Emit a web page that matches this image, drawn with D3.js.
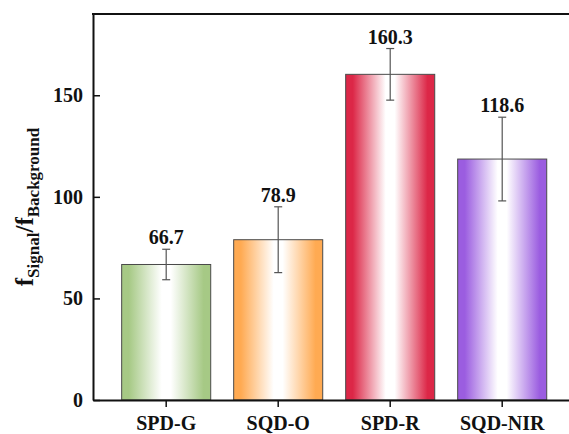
<!DOCTYPE html>
<html>
<head>
<meta charset="utf-8">
<script src="https://cdn.jsdelivr.net/npm/d3@7"></script>
<style>
  html, body { margin: 0; padding: 0; background: #fff; }
  svg { display: block; }
  svg text { font-family: "Times New Roman", "Liberation Serif", Tinos, "DejaVu Serif", serif !important; font-weight: bold !important; }
</style>
</head>
<body>
<script>
const categories = ["SPD-G", "SQD-O", "SPD-R", "SQD-NIR"];
const values = [66.7, 78.9, 160.3, 118.6];
const errors = [7.5, 16.2, 12.7, 20.6];
const colors = ["#a6c985", "#ffaa52", "#dc2747", "#9b5de0"];
const yTicks = [0, 50, 100, 150];

const W = 569, H = 434;
const svg = d3.select("body").append("svg").attr("width", W).attr("height", H);

const x0 = 93, yBottom = 400, yTop = 14;
const x = d3.scaleBand().domain(categories).range([x0, 575.4]).paddingInner(0.205).paddingOuter(0.256);
const y = d3.scaleLinear().domain([0, 190]).range([yBottom, yTop]);

const defs = svg.append("defs");
categories.forEach((c, i) => {
  const g = defs.append("linearGradient").attr("id", "grad" + i)
    .attr("x1", "0%").attr("x2", "100%").attr("y1", "0%").attr("y2", "0%");
  g.append("stop").attr("offset", "0%").attr("stop-color", colors[i]);
  g.append("stop").attr("offset", "8%").attr("stop-color", colors[i]);
  g.append("stop").attr("offset", "45%").attr("stop-color", "#ffffff");
  g.append("stop").attr("offset", "55%").attr("stop-color", "#ffffff");
  g.append("stop").attr("offset", "92%").attr("stop-color", colors[i]);
  g.append("stop").attr("offset", "100%").attr("stop-color", colors[i]);
});

// bars
svg.append("g").selectAll("rect").data(categories).join("rect")
  .attr("x", d => x(d))
  .attr("y", (d, i) => y(values[i]))
  .attr("width", x.bandwidth())
  .attr("height", (d, i) => y(0) - y(values[i]))
  .attr("fill", (d, i) => `url(#grad${i})`)
  .attr("stroke", "#4a4a4a")
  .attr("stroke-width", 1);

// error bars
const eg = svg.append("g").attr("stroke", "#555").attr("stroke-width", 1.2);
categories.forEach((c, i) => {
  const cx = x(c) + x.bandwidth() / 2;
  const top = y(values[i] + errors[i]), bot = y(values[i] - errors[i]);
  eg.append("line").attr("x1", cx).attr("x2", cx).attr("y1", top).attr("y2", bot);
  eg.append("line").attr("x1", cx - 4).attr("x2", cx + 4).attr("y1", top).attr("y2", top);
  eg.append("line").attr("x1", cx - 4).attr("x2", cx + 4).attr("y1", bot).attr("y2", bot);
});

// value labels
svg.append("g").selectAll("text").data(categories).join("text")
  .attr("x", d => x(d) + x.bandwidth() / 2)
  .attr("y", (d, i) => y(values[i] + errors[i]) - 5)
  .attr("text-anchor", "middle")
  .attr("font-size", 20)
  .attr("fill", "#111")
  .text((d, i) => values[i].toFixed(1));

// axes
const yAxis = svg.append("g").attr("transform", `translate(${x0},0)`)
  .call(d3.axisLeft(y).tickValues(yTicks).tickSizeInner(-7).tickSizeOuter(0).tickPadding(10));
yAxis.attr("font-family", null).attr("font-size", null);
yAxis.selectAll("text").attr("font-size", 20).attr("fill", "#111");

const xAxis = svg.append("g").attr("transform", `translate(0,${yBottom})`)
  .call(d3.axisBottom(x).tickSizeInner(7).tickSizeOuter(0).tickPadding(9));
xAxis.attr("font-family", null).attr("font-size", null);
xAxis.selectAll("text").attr("font-size", 20).attr("fill", "#111");

svg.selectAll(".domain").attr("stroke", "#111").attr("stroke-width", 2);
svg.selectAll(".tick line").attr("stroke", "#111").attr("stroke-width", 1.5);

// top frame line
svg.append("line").attr("x1", x0 - 1).attr("x2", W).attr("y1", yTop).attr("y2", yTop)
  .attr("stroke", "#111").attr("stroke-width", 2);

// y title
const t = svg.append("text")
  .attr("transform", `translate(33,${(yTop + yBottom) / 2}) rotate(-90)`)
  .attr("text-anchor", "middle")
  .attr("font-size", 25)
  .attr("fill", "#111");
t.append("tspan").text("f");
t.append("tspan").attr("font-size", 17).attr("dy", 6).text("Signal");
t.append("tspan").attr("dy", -6).text("/f");
t.append("tspan").attr("font-size", 17).attr("dy", 6).text("Background");
</script>
</body>
</html>
